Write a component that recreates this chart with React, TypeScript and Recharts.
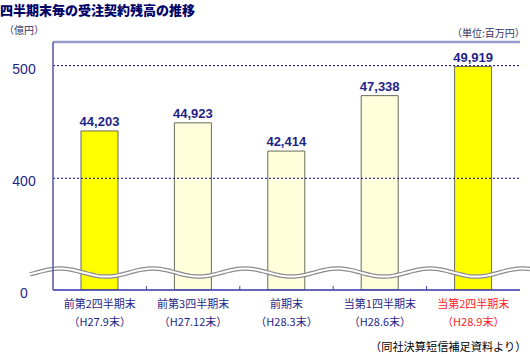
import { BarChart, Bar, XAxis, YAxis, Cell, LabelList, ReferenceLine } from "recharts";

const periods = ["前第2四半期末", "前第3四半期末", "前期末", "当第1四半期末", "当第2四半期末"];
const dates = ["（H27.9末）", "（H27.12末）", "（H28.3末）", "（H28.6末）", "（H28.9末）"];
const backlog = [44203, 44923, 42414, 47338, 49919];
const highlight = [true, false, false, false, true];

// axis is broken: the bottom of the plot stands for 0
const axisFloor = 30080;
const axisTop = 52100;
const breakAt = 31630;
const yTicks = [axisFloor, 40000, 50000];
const yTickLabels = ["0", "400", "500"];

const data = periods.map((p, i) => ({ period: p, date: dates[i], value: backlog[i] }));

const NAVY = "#1f1f88";
const JP = '"Noto Sans CJK JP", sans-serif';

function YTick({ y, payload }: any) {
  const i = yTicks.indexOf(payload.value);
  return (
    <text x={24} y={y + 8} textAnchor="middle" fill={NAVY} fontSize={14} fontFamily='"Liberation Sans", Arial'>
      {yTickLabels[i]}
    </text>
  );
}

function XTick({ x, y, payload, index, width }: any) {
  const last = index === periods.length - 1;
  const half = width / periods.length / 2;
  const color = last ? "#ff2222" : NAVY;
  return (
    <g>
      {!last && <line x1={x + half} x2={x + half} y1={y} y2={y - 4} stroke="#4444aa" />}
      <text x={x} y={y + 18} textAnchor="middle" fill={color} fontSize={11} fontFamily={JP}>
        {payload.value}
      </text>
      <text x={x} y={y + 36} textAnchor="middle" fill={color} fontSize={11} fontFamily={JP}>
        {dates[index]}
      </text>
    </g>
  );
}

function Wave({ x1, y1 }: any) {
  if (x1 == null || y1 == null) return null;
  const pts: string[] = [];
  for (let x = x1 - 23; x <= 530; x += 2) {
    const y = y1 - 4 * Math.cos((2 * Math.PI * (x - 60)) / 92.5);
    pts.push(`${x},${y.toFixed(2)}`);
  }
  const d = "M" + pts.join(" L");
  return (
    <g>
      <path d={d} fill="none" stroke="#8c8c8c" strokeWidth={4.5} />
      <path d={d} fill="none" stroke="#ffffff" strokeWidth={2} />
    </g>
  );
}

export default function App() {
  return (
    <div style={{ position: "absolute", left: 0, top: 0, width: 530, height: 354, background: "#fff" }}>
      <BarChart width={530} height={354} data={data} margin={{ top: 42, right: 10, bottom: 0, left: 0 }} style={{ position: "absolute", left: 0, top: 0 }}>
        <XAxis dataKey="period" height={64} axisLine={{ stroke: "#3333aa", strokeWidth: 1.5 }} tickLine={false} tickSize={0} tickMargin={0} tick={<XTick />} interval={0} />
        <YAxis width={53} domain={[axisFloor, axisTop]} ticks={yTicks} allowDataOverflow axisLine={{ stroke: "#5555aa", strokeWidth: 1.5 }} tickLine={false} tick={<YTick />} />
        <YAxis yAxisId="frame" orientation="right" width={0} tick={false} tickLine={false} axisLine={{ stroke: "#7777bb" }} />
        <ReferenceLine y={axisTop} stroke="#9999cc" strokeWidth={2.5} ifOverflow="visible" />
        <ReferenceLine y={40000} stroke="#000099" strokeDasharray="2 2" />
        <ReferenceLine y={50000} stroke="#000099" strokeDasharray="2 2" />
        <Bar dataKey="value" barSize={37} stroke="#6b6b5a" strokeWidth={1} isAnimationActive={false}>
          {data.map((_, i) => (
            <Cell key={i} fill={highlight[i] ? "#ffff00" : "#ffffdc"} />
          ))}
          <LabelList dataKey="value" position="top" offset={5} fill={NAVY} fontSize={13} fontWeight="bold" fontFamily='"Liberation Sans", Arial' formatter={(v: number) => v.toLocaleString("en-US")} />
        </Bar>
        <ReferenceLine y={breakAt} ifOverflow="visible" shape={<Wave />} />
      </BarChart>
      <div style={{ position: "absolute", left: 0, top: 1, fontSize: 13, fontWeight: 900, color: "#000066", fontFamily: JP, lineHeight: "17px", whiteSpace: "nowrap" }}>
        四半期末毎の受注契約残高の推移
      </div>
      <div style={{ position: "absolute", left: 4, top: 23, fontSize: 10, color: "#333366", fontFamily: JP, lineHeight: "14px" }}>
        （億円）
      </div>
      <div style={{ position: "absolute", left: 452, top: 26, fontSize: 10, color: "#333366", fontFamily: JP, lineHeight: "14px", whiteSpace: "nowrap" }}>
        （単位:百万円）
      </div>
      <div style={{ position: "absolute", left: 370, top: 339, fontSize: 11.2, color: "#000", fontFamily: JP, lineHeight: "14px", whiteSpace: "nowrap" }}>
        （同社決算短信補足資料より）
      </div>
    </div>
  );
}
